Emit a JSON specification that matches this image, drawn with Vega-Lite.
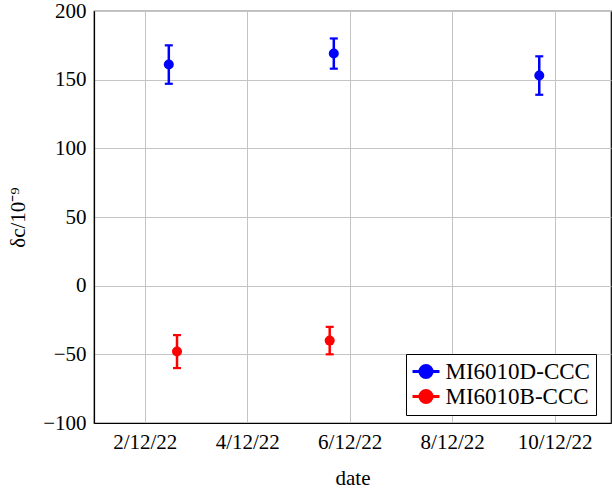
{
  "$schema": "https://vega.github.io/schema/vega-lite/v6.json",
  "width": 517,
  "height": 412,
  "autosize": "none",
  "padding": {"left": 94, "top": 11, "right": 1, "bottom": 71},
  "background": "white",
  "config": {
    "font": "Liberation Serif",
    "view": {"stroke": "black", "strokeWidth": 1.2},
    "axis": {
      "labelFont": "Liberation Serif",
      "titleFont": "Liberation Serif",
      "labelFontSize": 21,
      "titleFontSize": 21,
      "titleFontWeight": "normal",
      "labelColor": "black",
      "titleColor": "black",
      "domainColor": "black",
      "domainWidth": 1.2,
      "gridColor": "#c4c4c4",
      "gridWidth": 1,
      "ticks": false
    }
  },
  "data": {
    "values": [
      {"series": "MI6010D-CCC", "day": 2.47, "value": 161, "lo": 147, "hi": 175},
      {"series": "MI6010D-CCC", "day": 5.69, "value": 169, "lo": 158, "hi": 180},
      {"series": "MI6010D-CCC", "day": 9.7, "value": 153, "lo": 139, "hi": 167},
      {"series": "MI6010B-CCC", "day": 2.63, "value": -48, "lo": -60, "hi": -36},
      {"series": "MI6010B-CCC", "day": 5.61, "value": -40, "lo": -50, "hi": -30}
    ]
  },
  "encoding": {
    "x": {
      "field": "day",
      "type": "quantitative",
      "scale": {"domain": [1.01, 11.1], "nice": false, "zero": false},
      "axis": {
        "title": "date",
        "values": [2, 4, 6, 8, 10],
        "labelExpr": "datum.value + '/12/22'",
        "labelPadding": 8,
        "titlePadding": 15
      }
    },
    "color": {
      "field": "series",
      "type": "nominal",
      "scale": {"domain": ["MI6010D-CCC", "MI6010B-CCC"], "range": ["#0000ff", "#ff0000"]},
      "legend": {
        "title": null,
        "orient": "none",
        "legendX": 312,
        "legendY": 343,
        "labelFont": "Liberation Serif",
        "labelFontSize": 23,
        "labelColor": "black",
        "symbolType": "M-2,0H2M-0.9,0a0.9,0.9 0 1,0 1.8,0a0.9,0.9 0 1,0 -1.8,0",
        "symbolSize": 182,
        "symbolStrokeWidth": 3,
        "symbolOpacity": 1,
        "symbolOffset": 2.5,
        "strokeColor": "black",
        "fillColor": "white",
        "padding": 6,
        "rowPadding": 0,
        "labelOffset": 8
      }
    }
  },
  "layer": [
    {
      "mark": {"type": "rule", "strokeWidth": 2.5},
      "encoding": {
        "y": {
          "field": "lo",
          "type": "quantitative",
          "scale": {"domain": [-100, 200], "nice": false},
          "axis": {
            "title": "δc/10⁻⁹",
            "values": [-100, -50, 0, 50, 100, 150, 200],
            "labelPadding": 8,
            "titlePadding": 14
          }
        },
        "y2": {"field": "hi"}
      }
    },
    {
      "mark": {"type": "tick", "orient": "horizontal", "size": 8, "thickness": 2.2, "opacity": 1},
      "encoding": {"y": {"field": "lo", "type": "quantitative"}}
    },
    {
      "mark": {"type": "tick", "orient": "horizontal", "size": 8, "thickness": 2.2, "opacity": 1},
      "encoding": {"y": {"field": "hi", "type": "quantitative"}}
    },
    {
      "mark": {"type": "point", "filled": true, "shape": "circle", "size": 100, "opacity": 1},
      "encoding": {"y": {"field": "value", "type": "quantitative"}}
    }
  ]
}
